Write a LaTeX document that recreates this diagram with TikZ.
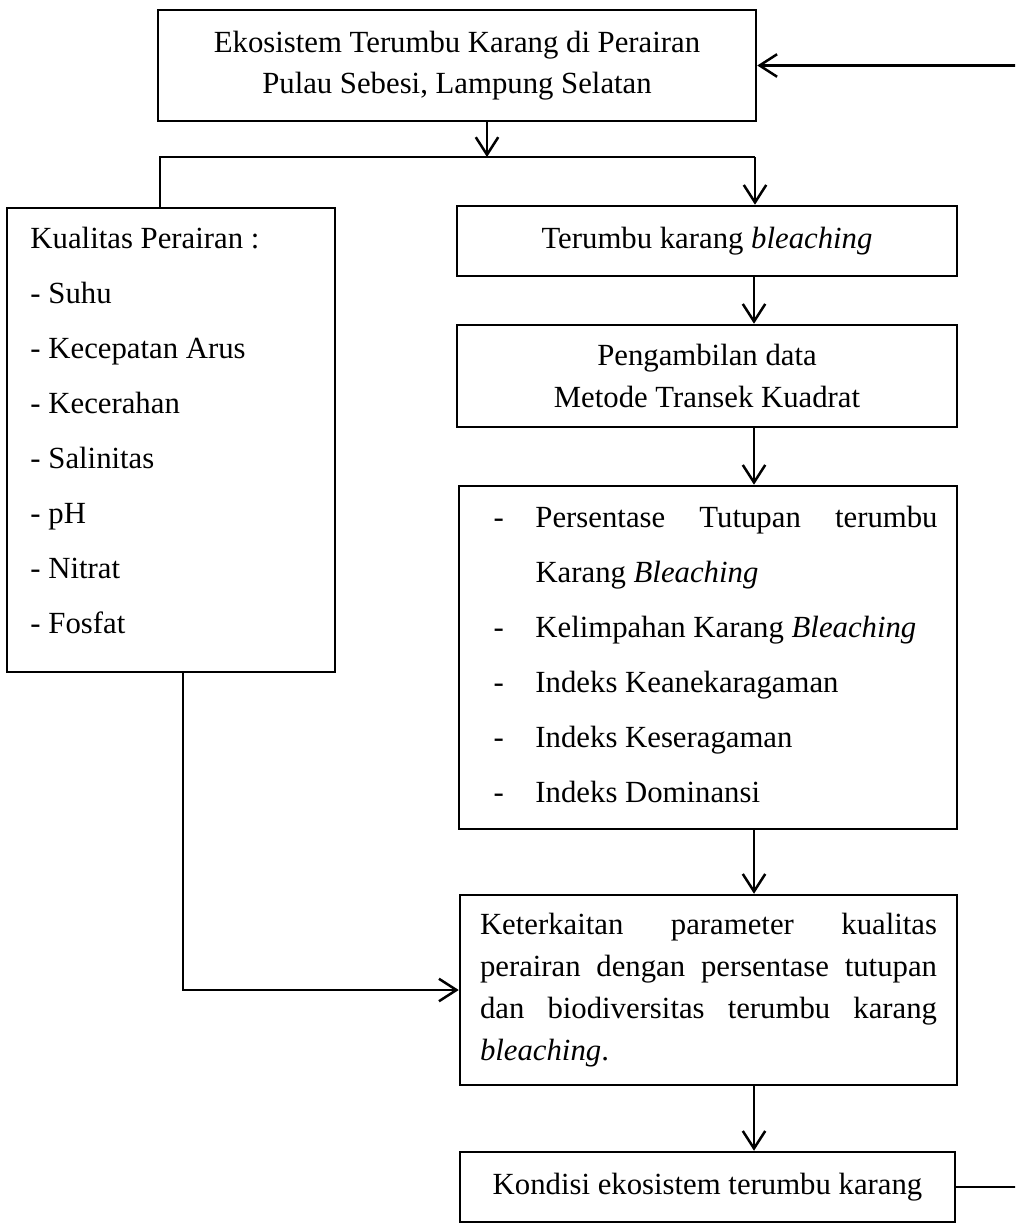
\documentclass[tikz,border=0pt]{standalone}
\usepackage{fontspec}
\setmainfont{Liberation Serif}
\usetikzlibrary{arrows.meta}

\tikzset{
  kotak/.style={draw, line width=1pt, inner sep=0pt, align=center},
  garis/.style={line width=1pt},
  panah/.style={line width=1pt, -{Straight Barb[length=7pt,width=9pt,line width=1pt]}},
  daftar/.style={anchor=north west, inner sep=0pt, align=flush left, font=\fontsize{12.3}{22}\selectfont}
}

\begin{document}
\begin{tikzpicture}[x=0.4pt, y=-0.4pt, font=\fontsize{12.3}{16.4}\selectfont]
\clip (0,0) rectangle (1015,1224);

\node[kotak, minimum width=239.2pt, minimum height=44.4pt] (ekosistem) at (457,65.5)
  {Ekosistem Terumbu Karang di Perairan\\ Pulau Sebesi, Lampung Selatan};

\node[kotak, minimum width=131.2pt, minimum height=185.6pt] (kualitas) at (171,440) {};
\node[daftar, text width=120pt] (parameter) at (30,227)
  {Kualitas Perairan :\\ - Suhu\\ - Kecepatan Arus\\ - Kecerahan\\ - Salinitas\\ - pH\\ - Nitrat\\ - Fosfat};

\node[kotak, minimum width=200pt, minimum height=28pt] (terumbu) at (707,241)
  {Terumbu karang \textit{bleaching}};
\node[kotak, minimum width=200pt, minimum height=40.8pt, font=\fontsize{12.3}{16.8}\selectfont] (pengambilan) at (707,376)
  {Pengambilan data\\ Metode Transek Kuadrat};

\node[kotak, minimum width=199.2pt, minimum height=137.2pt] (hasil) at (708,657.5) {};
\node[daftar, text width=177.6pt] (indeks) at (493,506)
  {\makebox[16.8pt][l]{-}Persentase\hfill Tutupan\hfill terumbu\\
   \hspace*{16.8pt}Karang \textit{Bleaching}\\
   \makebox[16.8pt][l]{-}Kelimpahan Karang \textit{Bleaching}\\
   \makebox[16.8pt][l]{-}Indeks Keanekaragaman\\
   \makebox[16.8pt][l]{-}Indeks Keseragaman\\
   \makebox[16.8pt][l]{-}Indeks Dominansi};

\node[kotak, text width=182.8pt, inner xsep=8pt, minimum height=76pt, align=justify,
      font=\fontsize{12.3}{16.8}\selectfont] (keterkaitan) at (708.5,990)
  {Keterkaitan parameter kualitas\linebreak perairan dengan persentase tutupan\linebreak
   dan biodiversitas terumbu karang\linebreak \textit{bleaching}.};

\node[kotak, minimum width=198pt, minimum height=28pt] (kondisi) at (707.5,1187)
  {Kondisi ekosistem terumbu karang};

\coordinate (cabang) at (487,157);
\coordinate (kiri) at (160,157);
\coordinate (kanan) at (755,157);
\coordinate (poros) at (754,0);
\coordinate (turun) at (183,0);
\coordinate (balik) at (1030,0);

\draw[panah] (ekosistem.south -| cabang) -- (cabang);
\draw[garis] (kualitas.north -| kiri) |- (kanan);
\draw[panah] (kanan) -- (kanan |- terumbu.north);
\draw[panah] (terumbu.south -| poros) -- (pengambilan.north -| poros);
\draw[panah] (pengambilan.south -| poros) -- (hasil.north -| poros);
\draw[panah] (hasil.south -| poros) -- (keterkaitan.north -| poros);
\draw[panah] (keterkaitan.south -| poros) -- (kondisi.north -| poros);
\draw[panah] (kualitas.south -| turun) |- (keterkaitan.west);
\draw[panah] (kondisi.east) -- (kondisi.east -| balik) |- (ekosistem.east);
\end{tikzpicture}
\end{document}
